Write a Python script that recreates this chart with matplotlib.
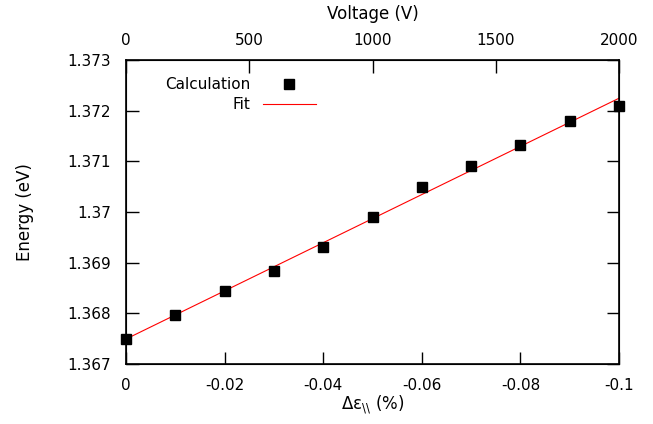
import numpy as np
import matplotlib
matplotlib.use("Agg")
import matplotlib.pyplot as plt

# strain change (%) and calculated energy (eV)
strain = [0.0, -0.01, -0.02, -0.03, -0.04, -0.05, -0.06, -0.07, -0.08, -0.09, -0.1]
energy = [1.36749, 1.36797, 1.36844, 1.36884, 1.36931, 1.36990,
          1.37049, 1.37091, 1.37132, 1.37180, 1.37209]

strainTicks = [0.0, -0.02, -0.04, -0.06, -0.08, -0.1]
strainTickLabels = ["0", "-0.02", "-0.04", "-0.06", "-0.08", "-0.1"]
energyTicks = [1.367, 1.368, 1.369, 1.370, 1.371, 1.372, 1.373]
energyTickLabels = ["1.367", "1.368", "1.369", "1.37", "1.371", "1.372", "1.373"]
voltageTicks = [0, 500, 1000, 1500, 2000]
voltageTickLabels = ["0", "500", "1000", "1500", "2000"]

plt.rcParams['font.family'] = ['DejaVu Sans']
plt.rcParams['font.size'] = 11

fig = plt.figure(figsize=(6.53, 4.24), dpi=100)
ax = fig.add_axes([126 / 653, 1 - 364 / 424, 493 / 653, 304 / 424])

# linear fit of the calculated points
slope, intercept = np.polyfit(strain, energy, 1)
xFit = np.array([strain[0], strain[-1]])
yFit = slope * xFit + intercept

ax.plot(strain, energy, linestyle="none", marker="s", markersize=7.2,
        color="black", label="Calculation", clip_on=False, zorder=3)
ax.plot(xFit, yFit, color="red", linewidth=0.8, label="Fit", zorder=2)

ax.set_xlim(0, -0.1)
ax.set_ylim(1.367, 1.373)
ax.set_xticks(strainTicks)
ax.set_xticklabels(strainTickLabels)
ax.set_yticks(energyTicks)
ax.set_yticklabels(energyTickLabels)
ax.tick_params(axis="x", direction="in", length=9, width=1, top=False, pad=10)
ax.tick_params(axis="y", direction="in", length=9, width=1, right=True, pad=11)
ax.set_xlabel(r"Δε$_{\backslash\backslash}$ (%)", fontsize=12, labelpad=0.5)
ax.set_ylabel("Energy (eV)", fontsize=12, labelpad=24)

for spine in ax.spines.values():
    spine.set_linewidth(1.2)

top = ax.twiny()
top.set_xlim(0, 2000)
top.set_xticks(voltageTicks)
top.set_xticklabels(voltageTickLabels)
top.tick_params(axis="x", direction="in", length=9, width=1, pad=8.5)
top.set_xlabel("Voltage (V)", fontsize=12, labelpad=10.5)

leg = ax.legend(loc="upper right", bbox_to_anchor=(316 / 653, 1 - 77 / 424),
                bbox_transform=fig.transFigure, frameon=False, markerfirst=False,
                handlelength=3.5, handletextpad=0.8, labelspacing=0.35,
                borderpad=0, borderaxespad=0)

fig.savefig("out.png", dpi=100)
